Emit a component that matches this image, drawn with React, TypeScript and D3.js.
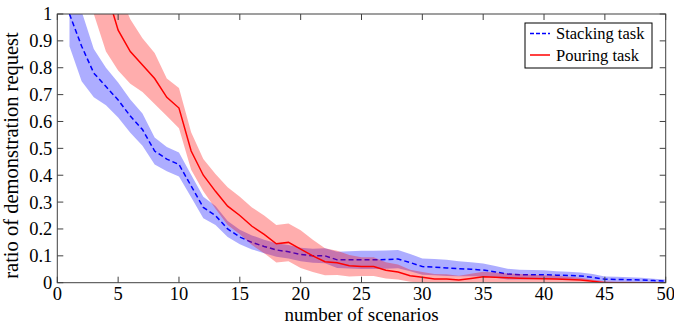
import React from 'react';
import * as d3 from 'd3';

// stacking task: x = 1..50
const stackX = d3.range(1, 51);
const stackMean = [
  1.0, 0.88, 0.78, 0.73, 0.68, 0.62, 0.57, 0.49, 0.46, 0.44,
  0.36, 0.28, 0.25, 0.2, 0.17, 0.15, 0.135, 0.122, 0.115, 0.105,
  0.1, 0.1, 0.085, 0.085, 0.085, 0.085, 0.086, 0.088, 0.075, 0.06,
  0.058, 0.055, 0.052, 0.05, 0.047, 0.04, 0.032, 0.03, 0.03, 0.03,
  0.028, 0.027, 0.025, 0.02, 0.013, 0.012, 0.011, 0.01, 0.008, 0.006,
];
const stackSpread = [
  0.12, 0.13, 0.09, 0.07, 0.065, 0.062, 0.06, 0.05, 0.045, 0.045,
  0.042, 0.04, 0.035, 0.03, 0.027, 0.026, 0.025, 0.025, 0.025, 0.025,
  0.026, 0.028, 0.03, 0.032, 0.034, 0.034, 0.034, 0.034, 0.032, 0.03,
  0.03, 0.03, 0.028, 0.026, 0.024, 0.022, 0.02, 0.018, 0.017, 0.016,
  0.015, 0.014, 0.013, 0.012, 0.01, 0.01, 0.009, 0.008, 0.007, 0.006,
];

// pouring task: x = 3..50
const pourX = d3.range(3, 51);
const pourMean = [
  1.2, 1.09, 0.94, 0.86, 0.81, 0.76, 0.69, 0.65,
  0.49, 0.4, 0.34, 0.285, 0.25, 0.21, 0.18, 0.145, 0.15, 0.125,
  0.1, 0.078, 0.074, 0.063, 0.06, 0.06, 0.046, 0.04, 0.026, 0.02,
  0.014, 0.014, 0.01, 0.016, 0.022, 0.02, 0.018, 0.017, 0.016, 0.015,
  0.014, 0.012, 0.01, 0.005, 0.0, 0.0, 0.0, 0.0, 0.0, 0.0,
];
const pourSpread = [
  0.2, 0.23, 0.15, 0.12, 0.1, 0.095, 0.07, 0.075,
  0.07, 0.06, 0.065, 0.07, 0.07, 0.07, 0.07, 0.07, 0.07, 0.07,
  0.06, 0.05, 0.045, 0.04, 0.035, 0.035, 0.03, 0.028, 0.022, 0.02,
  0.018, 0.017, 0.016, 0.017, 0.019, 0.018, 0.016, 0.015, 0.014, 0.013,
  0.012, 0.01, 0.008, 0.006, 0.005, 0.004, 0.004, 0.003, 0.003, 0.003,
];

const xTicks = d3.range(0, 51, 5);
const yTicks = d3.range(0, 11).map(d => d / 10);
const legendLabels = ['Stacking task', 'Pouring task'];

const W = 674;
const H = 327;
const margin = { top: 14, right: 8.3, bottom: 44.3, left: 57.3 };
const AXIS = '#404040';

export default function App() {
  const x = d3.scaleLinear().domain([0, 50]).range([margin.left, W - margin.right]);
  const y = d3.scaleLinear().domain([0, 1]).range([H - margin.bottom, margin.top]);

  const mk = (xs: number[], mean: number[], spread: number[]) => {
    const pts = xs.map((d, i) => ({ x: d, m: mean[i], s: spread[i] }));
    const area = d3.area<any>()
      .x(d => x(d.x))
      .y0(d => y(Math.max(0, d.m - d.s)))
      .y1(d => y(d.m + d.s))(pts) as string;
    const line = d3.line<any>().x(d => x(d.x)).y(d => y(d.m))(pts) as string;
    return { area, line };
  };
  const stack = mk(stackX, stackMean, stackSpread);
  const pour = mk(pourX, pourMean, pourSpread);

  const [x0, x1] = x.range();
  const [yb, yt] = y.range();
  const tl = 6;

  return (
    <div style={{ position: 'absolute', left: 0, top: 0, fontFamily: 'Liberation Serif' }}>
      <svg width={W} height={H} style={{ display: 'block' }}>
        <style>{`text { font-family: 'Liberation Serif', 'Times New Roman', serif; }`}</style>
        <defs>
          <clipPath id="plot">
            <rect x={x0} y={yt} width={x1 - x0} height={yb - yt} />
          </clipPath>
        </defs>
        <rect width={W} height={H} fill="#fff" />
        <g clipPath="url(#plot)">
          <path d={stack.area} fill="rgb(0,0,255)" fillOpacity={0.32} />
          <path d={stack.line} fill="none" stroke="#0000ff" strokeWidth={1.5} strokeDasharray="5,3" />
          <path d={pour.area} fill="rgb(255,0,0)" fillOpacity={0.32} />
          <path d={pour.line} fill="none" stroke="#ff0000" strokeWidth={1.5} />
        </g>

        {/* frame and ticks */}
        <rect x={x0} y={yt} width={x1 - x0} height={yb - yt} fill="none" stroke={AXIS} strokeWidth={1} />
        {xTicks.map(t => (
          <g key={'x' + t}>
            <line x1={x(t)} x2={x(t)} y1={yb} y2={yb - tl} stroke={AXIS} />
            <line x1={x(t)} x2={x(t)} y1={yt} y2={yt + tl} stroke={AXIS} />
            <text x={x(t)} y={yb + 17.2} textAnchor="middle" fontSize={18.5} fill="#000">{t}</text>
          </g>
        ))}
        {yTicks.map(t => (
          <g key={'y' + t}>
            <line x1={x0} x2={x0 + tl} y1={y(t)} y2={y(t)} stroke={AXIS} />
            <line x1={x1} x2={x1 - tl} y1={y(t)} y2={y(t)} stroke={AXIS} />
            <text x={x0 - 5} y={y(t)} dy="0.35em" textAnchor="end" fontSize={18.5} fill="#000">{String(t)}</text>
          </g>
        ))}

        <text x={(x0 + x1) / 2} y={321.3} textAnchor="middle" fontSize={19} fill="#000">number of scenarios</text>
        <text transform={`translate(18,155.5) rotate(-90)`} textAnchor="middle" fontSize={20.5} fill="#000">
          ratio of demonstration request
        </text>

        {/* legend */}
        <g transform="translate(525,23)">
          <rect x={0} y={0} width={127} height={45} fill="#fff" stroke="#000" strokeWidth={1} />
          {legendLabels.map((label, i) => (
            <g key={label} transform={`translate(0,${10.5 + i * 21.5})`}>
              <line x1={5} x2={25} y1={0} y2={0}
                stroke={i === 0 ? '#0000ff' : '#ff0000'} strokeWidth={1.5}
                strokeDasharray={i === 0 ? '4,2' : undefined} />
              <text x={31} y={0} dy="0.35em" fontSize={16.5} fill="#000">{label}</text>
            </g>
          ))}
        </g>
      </svg>
    </div>
  );
}
